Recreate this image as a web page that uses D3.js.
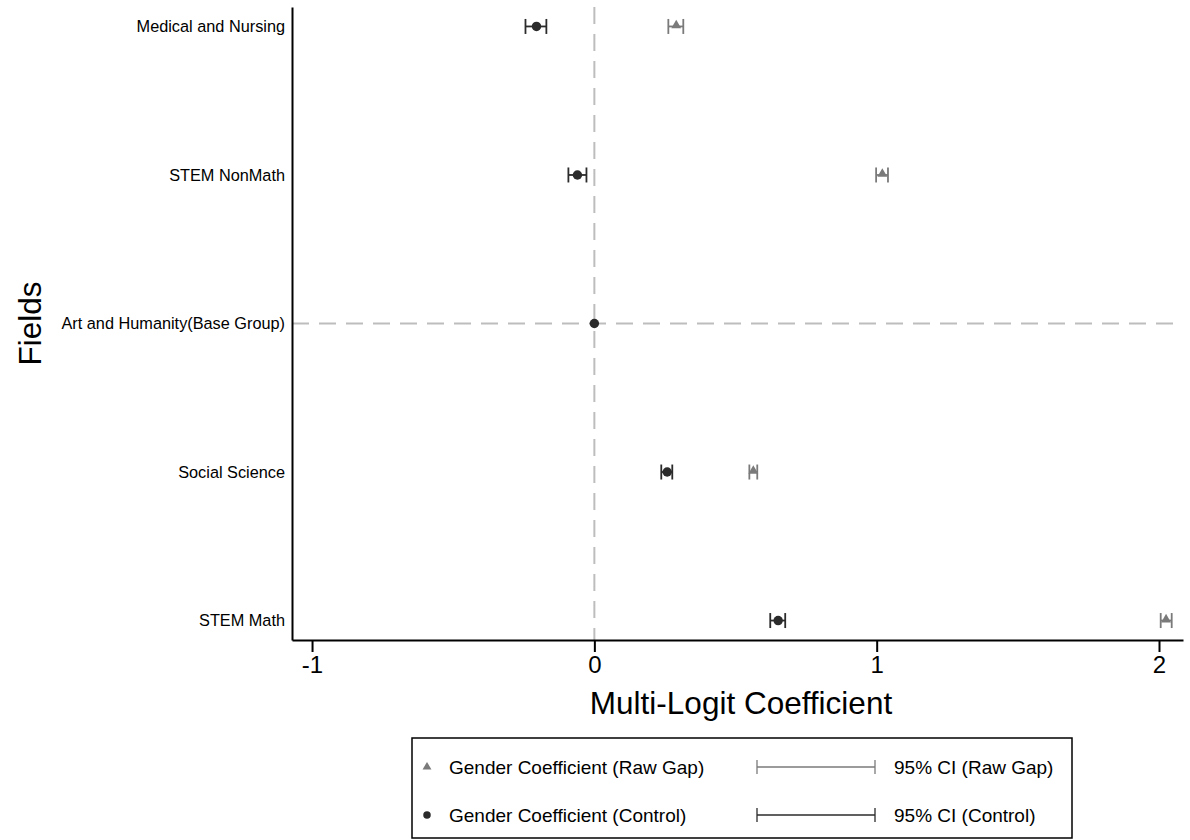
<!DOCTYPE html>
<html>
<head>
<meta charset="utf-8">
<script src="https://cdn.jsdelivr.net/npm/d3@7"></script>
<style>
  html, body { margin: 0; padding: 0; background: #fff; }
  svg { display: block; font-family: "Liberation Sans", Arial, sans-serif; }
</style>
</head>
<body>
<svg id="chart" width="1190" height="840"></svg>
<script>
// Fields, top to bottom
const fields = ["Medical and Nursing", "STEM NonMath", "Art and Humanity(Base Group)", "Social Science", "STEM Math"];

// Gender coefficient, raw gap (no controls); base group has no estimate
const rawCoef = [0.29, 1.02, null, 0.563, 2.025];
const rawLo   = [0.262, 0.998, null, 0.549, 2.006];
const rawHi   = [0.315, 1.040, null, 0.577, 2.045];

// Gender coefficient with controls
const ctlCoef = [-0.205, -0.06, 0, 0.258, 0.651];
const ctlLo   = [-0.244, -0.092, 0, 0.237, 0.623];
const ctlHi   = [-0.170, -0.028, 0, 0.276, 0.676];

const xTicks = [-1, 0, 1, 2];

const legendRows = [
  { marker: "Gender Coefficient (Raw Gap)", ci: "95% CI (Raw Gap)", kind: "raw" },
  { marker: "Gender Coefficient (Control)", ci: "95% CI (Control)", kind: "ctl" }
];

const rawColor = "#7a7a7a";
const ctlColor = "#2b2b2b";
const refColor = "#bdbdbd";

const svg = d3.select("#chart");

const plot = { left: 292, right: 1183, top: 7, bottom: 640 };

const x = d3.scaleLinear().domain([-1.071, 2.085]).range([plot.left, plot.right]);
const y = d3.scalePoint().domain(fields).range([plot.top, plot.bottom]).padding(0.131);

// reference lines: zero effect and the base group
svg.append("line")
  .attr("x1", x(0)).attr("x2", x(0))
  .attr("y1", plot.top).attr("y2", plot.bottom)
  .attr("stroke", refColor).attr("stroke-width", 2)
  .attr("stroke-dasharray", "17,10");
svg.append("line")
  .attr("x1", plot.left).attr("x2", plot.right)
  .attr("y1", y(fields[2])).attr("y2", y(fields[2]))
  .attr("stroke", refColor).attr("stroke-width", 2)
  .attr("stroke-dasharray", "17,10");

// x axis (plain hyphen for negative labels)
const xAxis = svg.append("g")
  .attr("transform", `translate(0,${plot.bottom})`)
  .call(d3.axisBottom(x).tickValues(xTicks).tickFormat(d => String(d)).tickSize(12).tickPadding(4).tickSizeOuter(0));
xAxis.select(".domain").attr("stroke", "#000").attr("stroke-width", 2);
xAxis.selectAll(".tick line").attr("stroke", "#000").attr("stroke-width", 2);
xAxis.selectAll(".tick text").attr("font-size", 24).attr("fill", "#000")
  .attr("font-family", "Liberation Sans, Arial, sans-serif");

// y axis
const yAxis = svg.append("g")
  .attr("transform", `translate(${plot.left},0)`)
  .call(d3.axisLeft(y).tickSize(0).tickPadding(7).tickSizeOuter(0));
yAxis.select(".domain").attr("stroke", "#000").attr("stroke-width", 2);
yAxis.selectAll(".tick text").attr("font-size", 16.3).attr("fill", "#000")
  .attr("font-family", "Liberation Sans, Arial, sans-serif");

// axis titles
svg.append("text")
  .attr("x", 741).attr("y", 714)
  .attr("text-anchor", "middle").attr("font-size", 31.5).attr("fill", "#000")
  .text("Multi-Logit Coefficient");
svg.append("text")
  .attr("transform", `translate(41,${(plot.top + plot.bottom) / 2}) rotate(-90)`)
  .attr("text-anchor", "middle").attr("font-size", 31.5).attr("fill", "#000")
  .text("Fields");

const capH = 7.5;

function drawCI(g, lo, hi, yy, color, width) {
  g.append("line").attr("x1", x(lo)).attr("x2", x(hi)).attr("y1", yy).attr("y2", yy)
    .attr("stroke", color).attr("stroke-width", width);
  [lo, hi].forEach(v => {
    g.append("line").attr("x1", x(v)).attr("x2", x(v)).attr("y1", yy - capH).attr("y2", yy + capH)
      .attr("stroke", color).attr("stroke-width", width);
  });
}

const triangle = d3.symbol().type(d3.symbolTriangle).size(42);
const circle = d3.symbol().type(d3.symbolCircle).size(70);

// raw-gap estimates
const rawG = svg.append("g");
fields.forEach((f, i) => {
  if (rawCoef[i] === null) return;
  const yy = y(f);
  drawCI(rawG, rawLo[i], rawHi[i], yy, rawColor, 1.8);
  rawG.append("path").attr("d", triangle)
    .attr("transform", `translate(${x(rawCoef[i])},${yy - 1})`)
    .attr("fill", rawColor);
});

// controlled estimates
const ctlG = svg.append("g");
fields.forEach((f, i) => {
  const yy = y(f);
  if (ctlHi[i] > ctlLo[i]) drawCI(ctlG, ctlLo[i], ctlHi[i], yy, ctlColor, 1.8);
  ctlG.append("path").attr("d", circle)
    .attr("transform", `translate(${x(ctlCoef[i])},${yy})`)
    .attr("fill", ctlColor);
});

// legend
const lg = svg.append("g");
lg.append("rect").attr("x", 412).attr("y", 738).attr("width", 660).attr("height", 100)
  .attr("fill", "#fff").attr("stroke", "#000").attr("stroke-width", 1.5);
legendRows.forEach((r, i) => {
  const yy = 767 + i * 48;
  const color = r.kind === "raw" ? rawColor : ctlColor;
  lg.append("path").attr("d", r.kind === "raw" ? d3.symbol().type(d3.symbolTriangle).size(34) : d3.symbol().type(d3.symbolCircle).size(44))
    .attr("transform", `translate(427,${yy})`).attr("fill", color);
  lg.append("text").attr("x", 449).attr("y", yy).attr("dy", "0.35em")
    .attr("font-size", 19).attr("fill", "#000").text(r.marker);
  lg.append("line").attr("x1", 757).attr("x2", 875).attr("y1", yy).attr("y2", yy)
    .attr("stroke", color).attr("stroke-width", 1.3);
  [757, 875].forEach(px => lg.append("line").attr("x1", px).attr("x2", px)
    .attr("y1", yy - 7).attr("y2", yy + 7).attr("stroke", color).attr("stroke-width", 1.3));
  lg.append("text").attr("x", 894).attr("y", yy).attr("dy", "0.35em")
    .attr("font-size", 19).attr("fill", "#000").text(r.ci);
});
</script>
</body>
</html>
